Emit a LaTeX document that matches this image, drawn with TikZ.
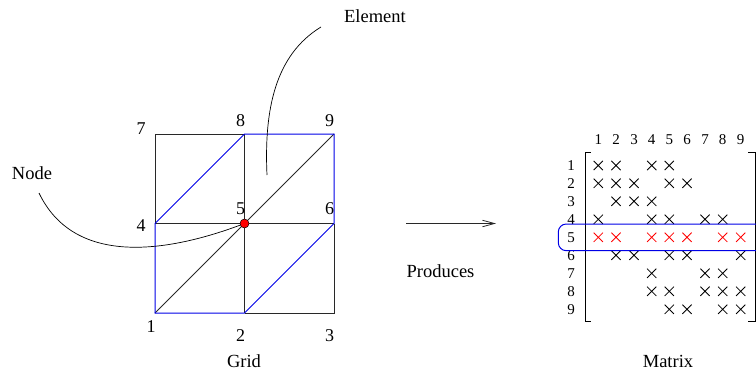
\documentclass[tikz,border=0pt]{standalone}
\usepackage{fontspec}
\setmainfont{Liberation Serif}
\usetikzlibrary{arrows.meta,shapes.misc}
\definecolor{meshblue}{RGB}{0,0,230}
\definecolor{lineblk}{RGB}{40,40,40}
\tikzset{
  lbl/.style={inner sep=0pt, font=\fontsize{18.5}{20}\selectfont},
  num/.style={inner sep=0pt, font=\fontsize{18}{20}\selectfont},
  mnum/.style={inner sep=0pt, font=\fontsize{15}{17}\selectfont},
  cross/.style={cross out, draw=black, line width=0.8pt, minimum size=8.5pt, inner sep=0pt},
  redcross/.style={cross, draw=red},
  meshline/.style={draw=lineblk, line width=0.8pt},
  bluemesh/.style={draw=meshblue, line width=1pt},
  leader/.style={draw=black, line width=0.7pt},
  brk/.style={draw=black, line width=0.9pt},
}
\begin{document}
\begin{tikzpicture}[x=1pt,y=-1pt]
\useasboundingbox (0,0) rectangle (756,372);
% grid corners
\coordinate (n1) at (155,313);
\coordinate (n2) at (244.5,313);
\coordinate (n3) at (334,313);
\coordinate (n4) at (155,223.5);
\coordinate (n5) at (244.5,223.5);
\coordinate (n6) at (334,223.5);
\coordinate (n7) at (155,134);
\coordinate (n8) at (244.5,134);
\coordinate (n9) at (334,134);
% black mesh lines
\path[meshline] (n7) -- (n8);
\path[meshline] (n7) -- (n4);
\path[meshline] (n4) -- (n6);
\path[meshline] (n8) -- (n2);
\path[meshline] (n2) -- (n3) -- (n6);
\path[meshline] (n1) -- (n9);
% blue patch outline
\path[bluemesh] (n1) -- (n2) -- (n6) -- (n9) -- (n8) -- (n4) -- cycle;
% corner labels
\node[num] (l7) at (141,129) {7};
\node[num] (l8) at (240.5,121) {8};
\node[num] (l9) at (329.5,121) {9};
\node[num] (l4) at (141,226) {4};
\node[num] (l5) at (240.5,209) {5};
\node[num] (l6) at (329.5,209) {6};
\node[num] (l1) at (151,327) {1};
\node[num] (l2) at (240.5,336) {2};
\node[num] (l3) at (329.5,336) {3};
\node[lbl, anchor=base] (grid) at (244,367) {Grid};
% leaders
\node[lbl] (nodelbl) at (32,173.5) {Node};
\node[lbl] (elemlbl) at (375,16) {Element};
\coordinate (nodestart) at (39,193);
\coordinate (elemstart) at (321,27);
\coordinate (elemend) at (267,175);
\path[leader] (nodestart) .. controls (75,268) and (170,252) .. (n5);
\path[leader] (elemstart) .. controls (275,55) and (264,110) .. (elemend);
% red node
\node[circle, fill=red, draw=black, line width=0.5pt, minimum size=9pt, inner sep=0pt] (dot) at (n5) {};
% arrow
\coordinate (ar1) at (406,223.5);
\coordinate (ar2) at (496,223.5);
\draw[draw=lineblk, line width=0.8pt, -{Straight Barb[length=12pt,width=6.5pt]}] (ar1) -- (ar2);
\node[lbl, anchor=base] (prod) at (440.5,277) {Produces};
% matrix
\foreach \c [count=\i] in {598.3,616,634,651.7,669.3,687,705,722.7,740.7} {
  \node[mnum] (c\i) at (\c,140) {\i};
}
\foreach \r [count=\i] in {165.5,183.3,201.3,219.3,237.3,255.3,273.3,291.3,309.3} {
  \node[mnum] (r\i) at (571,\r) {\i};
}
\def\colx#1{\ifcase#1\or598.3\or616\or634\or651.7\or669.3\or687\or705\or722.7\or740.7\fi}
\def\rowy#1{\ifcase#1\or165.5\or183.3\or201.3\or219.3\or237.3\or255.3\or273.3\or291.3\or309.3\fi}
\foreach \rr/\cols in {1/{1,2,4,5},2/{1,2,3,5,6},3/{2,3,4},4/{1,4,5,7,8},6/{2,3,5,6,9},7/{4,7,8},8/{4,5,7,8,9},9/{5,6,8,9}} {
  \foreach \cc in \cols {
    \node[cross] (x\rr\cc) at (\colx{\cc},\rowy{\rr}) {};
  }
}
\foreach \cc in {1,2,4,5,6,8,9} {
  \node[redcross] (x5\cc) at (\colx{\cc},\rowy{5}) {};
}
% brackets
\path[brk] (590.5,152.3) -- (585.7,152.3) -- (585.7,321.7) -- (590.5,321.7);
\path[brk] (748,152.3) -- (755.2,152.3) -- (755.2,321.7) -- (748,321.7);
% highlighted row
\begin{scope}
\clip (0,0) rectangle (756,372);
\path[bluemesh, rounded corners=8pt] (790,224) -- (558.3,224) -- (558.3,250.7) -- (790,250.7);
\end{scope}
\node[lbl, anchor=base] (mat) at (668,367) {Matrix};
\end{tikzpicture}
\end{document}
